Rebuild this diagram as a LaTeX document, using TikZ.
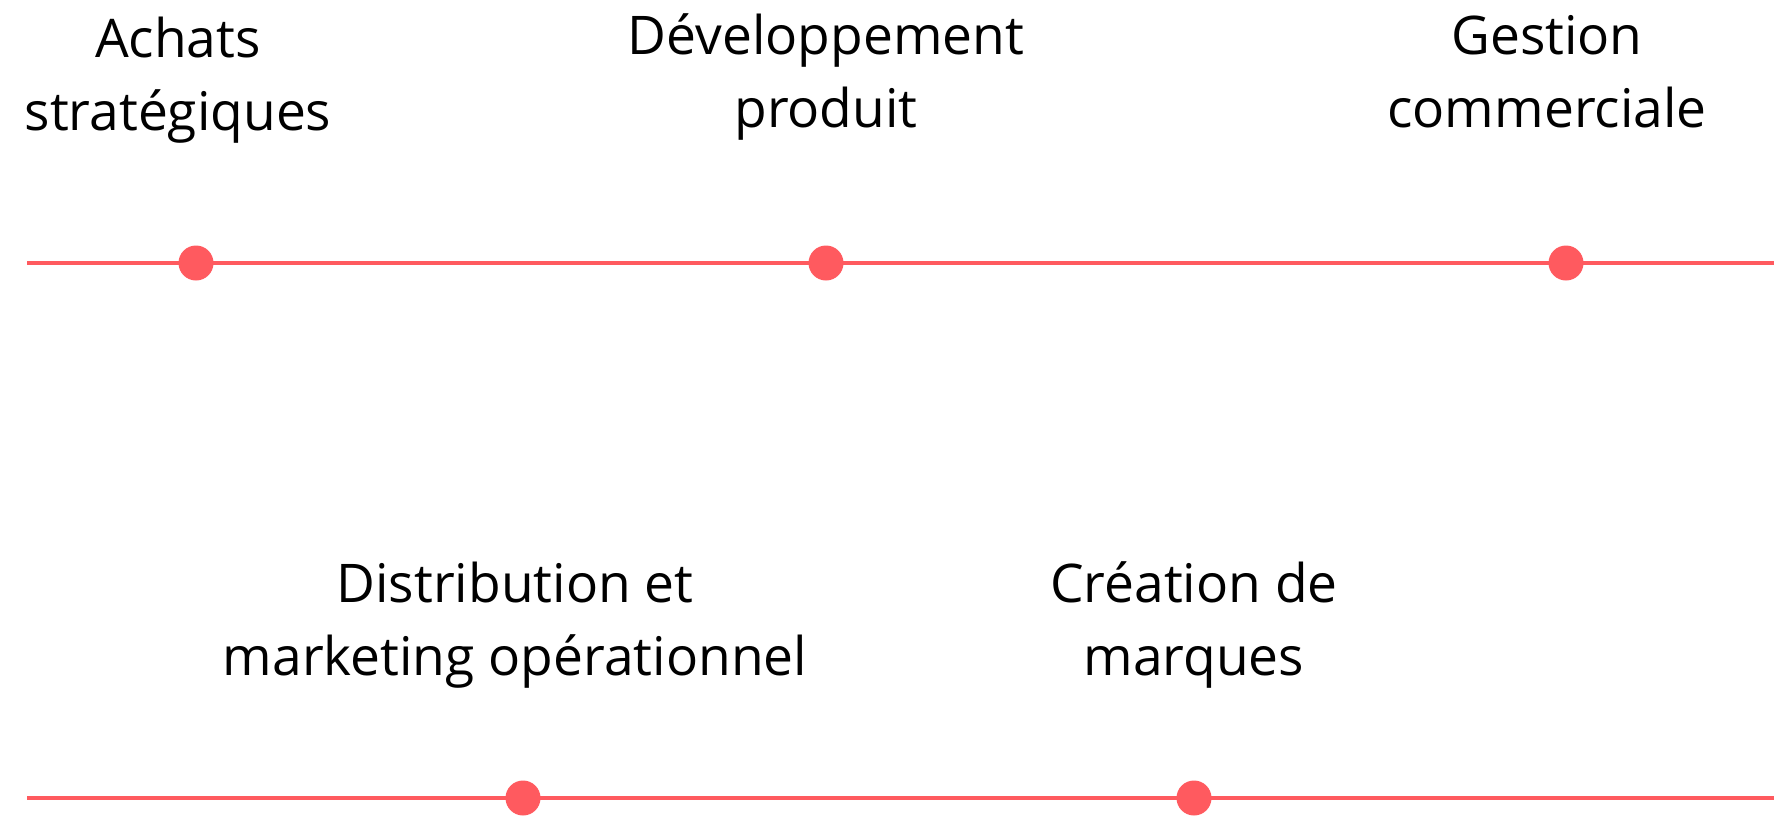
\documentclass[tikz,border=0pt]{standalone}
\usepackage{fontspec}
\setmainfont{Open Sans}
\definecolor{accent}{HTML}{FF5A5F}
\begin{document}
\begin{tikzpicture}[x=1pt,y=-1pt,
  tline/.style={draw=accent,line width=3.5pt},
  dot/.style={circle,fill=accent,minimum size=35pt,inner sep=0pt},
  lbl/.style={align=center,anchor=base,inner sep=0pt,font=\fontsize{53.3}{73}\selectfont}]
\useasboundingbox (0,0) rectangle (1787,815);
% top line
\coordinate (L1) at (27,263);
\coordinate (R1) at (1774,263);
\draw[tline] (L1) -- (R1);
\node[dot] (d1) at (196,263) {};
\node[dot] (d2) at (826,263) {};
\node[dot] (d3) at (1566,263) {};
% bottom line
\coordinate (L2) at (27,798);
\coordinate (R2) at (1774,798);
\draw[tline] (L2) -- (R2);
\node[dot] (d4) at (523,798) {};
\node[dot] (d5) at (1194,798) {};
% labels (base = baseline of last line)
\node[lbl] (t1) at (178,130) {Achats\\stratégiques};
\node[lbl] (t2) at (826,127) {Développement\\produit};
\node[lbl] (t3) at (1547,127) {Gestion\\commerciale};
\node[lbl] (t4) at (515,675) {Distribution et\\marketing opérationnel};
\node[lbl] (t5) at (1194,675) {Création de\\marques};
\end{tikzpicture}
\end{document}
